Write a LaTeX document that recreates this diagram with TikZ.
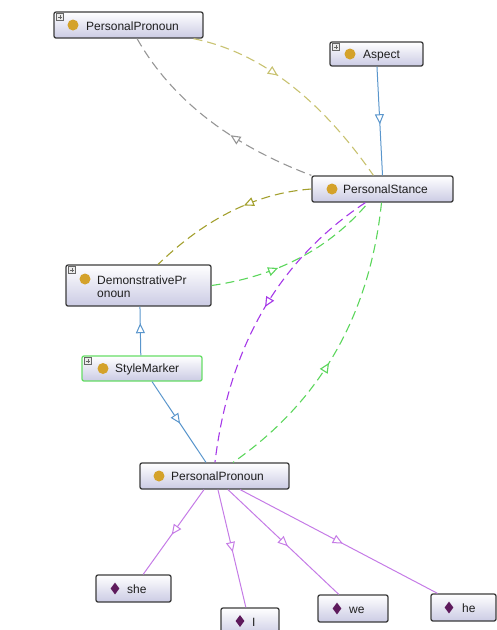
\documentclass[tikz,border=0pt]{standalone}
\usepackage{fontspec}
\setmainfont{Liberation Sans}
\usetikzlibrary{arrows.meta,decorations.markings,calc,shapes.geometric}

\definecolor{boxborder}{HTML}{3C3C3C}
\definecolor{boxbot}{HTML}{CBCBE4}
\definecolor{classdot}{HTML}{D4A22A}
\definecolor{indiv}{HTML}{5E1A5C}
\definecolor{edgeblue}{HTML}{5A96CC}
\definecolor{edgegray}{HTML}{969696}
\definecolor{edgekhaki}{HTML}{C8C270}
\definecolor{edgeolive}{HTML}{A3A02E}
\definecolor{edgegreen}{HTML}{5CD65C}
\definecolor{edgeviolet}{HTML}{A538E8}
\definecolor{edgelilac}{HTML}{C57BE6}
\definecolor{stylegreen}{HTML}{66DD66}

\tikzset{
  box/.style={draw=boxborder, line width=1.3pt, rounded corners=2pt, top color=white, bottom color=boxbot, inner sep=0pt},
  clsdot/.style={circle, fill=classdot, minimum size=11pt, inner sep=0pt},
  inddia/.style={diamond, fill=indiv, minimum width=9pt, minimum height=12pt, inner sep=0pt},
  lbl/.style={anchor=base west, inner sep=0pt, font=\fontsize{12}{14}\selectfont, text=black!88},
  expicon/.style={draw=black!60, fill=black!8, minimum size=7pt, inner sep=0pt, line width=0.5pt, anchor=north west,
    path picture={\draw[line width=0.6pt] ([xshift=-2.2pt]path picture bounding box.center) -- ([xshift=2.2pt]path picture bounding box.center)
      ([yshift=-2.2pt]path picture bounding box.center) -- ([yshift=2.2pt]path picture bounding box.center);}},
  dashedge/.style={line width=1.1pt, dash pattern=on 9pt off 5pt},
  solidedge/.style={line width=1pt},
  midarrow/.style={postaction={decorate}, decoration={markings, mark=at position #1 with {\arrow{Triangle[fill=white,length=10pt,width=9pt]}}}},
  midarrowrev/.style={postaction={decorate}, decoration={markings, mark=at position #1 with {\arrowreversed{Triangle[fill=white,length=10pt,width=9pt]}}}},
}

\begin{document}
\begin{tikzpicture}[x=1pt,y=-1pt]
\useasboundingbox (0,0) rectangle (497,630);

% ---------- nodes ----------
\node[box, minimum width=149pt, minimum height=26pt] (ppTop) at (128.5,25) {};
\node[expicon] (ppTopIcon) at ($(ppTop.north west)+(3,2)$) {};
\node[clsdot] (ppTopDot) at (73,25) {};
\node[lbl] (ppTopTxt) at (86,30) {PersonalPronoun};

\node[box, minimum width=93pt, minimum height=24pt] (aspect) at (376.5,54) {};
\node[expicon] (aspectIcon) at ($(aspect.north west)+(3,2)$) {};
\node[clsdot] (aspectDot) at (350,54) {};
\node[lbl] (aspectTxt) at (363,58.5) {Aspect};

\node[box, minimum width=141pt, minimum height=26pt] (stance) at (382.5,189) {};
\node[clsdot] (stanceDot) at (332,189) {};
\node[lbl] (stanceTxt) at (343,193) {PersonalStance};

\node[box, minimum width=145pt, minimum height=41pt] (demo) at (138.5,285.5) {};
\node[expicon] (demoIcon) at ($(demo.north west)+(3,2)$) {};
\node[clsdot] (demoDot) at (85,279) {};
\node[lbl] (demoTxtA) at (97,284) {DemonstrativePr};
\node[lbl] (demoTxtB) at (97,297) {onoun};

\node[box, draw=stylegreen, minimum width=120pt, minimum height=25pt] (style) at (142,368.5) {};
\node[expicon] (styleIcon) at ($(style.north west)+(3,2)$) {};
\node[clsdot] (styleDot) at (103,368.5) {};
\node[lbl] (styleTxt) at (115,372.5) {StyleMarker};

\node[box, minimum width=149pt, minimum height=26pt] (ppBot) at (214.5,476) {};
\node[clsdot] (ppBotDot) at (159,476) {};
\node[lbl] (ppBotTxt) at (171,480) {PersonalPronoun};

\node[box, minimum width=75pt, minimum height=27pt] (she) at (133.5,588.5) {};
\node[inddia] (sheDia) at (115,588.5) {};
\node[lbl] (sheTxt) at (127,593) {she};

\node[box, minimum width=58pt, minimum height=28pt] (iNode) at (250,622) {};
\node[inddia] (iDia) at (240,621) {};
\node[lbl] (iTxt) at (252,626) {I};

\node[box, minimum width=70pt, minimum height=27pt] (we) at (353,608.5) {};
\node[inddia] (weDia) at (337,608.5) {};
\node[lbl] (weTxt) at (349,613) {we};

\node[box, minimum width=65pt, minimum height=27pt] (he) at (463.5,607.5) {};
\node[inddia] (heDia) at (449,607.5) {};
\node[lbl] (heTxt) at (462,612) {he};

% ---------- connectors ----------
% Aspect -> PersonalStance
\draw[solidedge, edgeblue, midarrow=0.53]
  ($(aspect.south west)!0.505!(aspect.south east)$) -- ($(stance.north west)!0.5!(stance.north east)$);

% PersonalPronoun (top) <-> PersonalStance
\draw[dashedge, edgegray, midarrowrev=0.6]
  ($(ppTop.south west)!0.557!(ppTop.south east)$) .. controls (172,100) and (231,145) .. (stance.north west);
\draw[dashedge, edgekhaki, midarrow=0.4]
  ($(ppTop.south west)!0.933!(ppTop.south east)$) .. controls (259,52) and (319,97) .. ($(stance.north west)!0.436!(stance.north east)$);

% PersonalStance <-> DemonstrativePronoun
\draw[dashedge, edgeolive, midarrow=0.4]
  (stance.west) .. controls (257,193) and (206,218) .. ($(demo.north west)!0.634!(demo.north east)$);
\draw[dashedge, edgegreen, midarrow=0.38]
  (demo.east) .. controls (277,276) and (329,249) .. ($(stance.south west)!0.4!(stance.south east)$);

% PersonalStance <-> PersonalPronoun (bottom)
\draw[dashedge, edgeviolet, midarrow=0.47]
  ($(stance.south west)!0.379!(stance.south east)$) .. controls (279,260) and (229,346) .. ($(ppBot.north west)!0.503!(ppBot.north east)$);
\draw[dashedge, edgegreen, midarrowrev=0.55]
  ($(stance.south west)!0.493!(stance.south east)$) .. controls (370,314) and (321,401) .. ($(ppBot.north west)!0.624!(ppBot.north east)$);

% StyleMarker links
\draw[solidedge, edgeblue, midarrow=0.66]
  ($(style.north west)!0.49!(style.north east)$) -- ($(demo.south west)!0.51!(demo.south east)$);
\draw[solidedge, edgeblue, midarrow=0.52]
  ($(style.south west)!0.583!(style.south east)$) -- ($(ppBot.north west)!0.443!(ppBot.north east)$);

% PersonalPronoun (bottom) -> individuals
\draw[solidedge, edgelilac, midarrow=0.53]
  ($(ppBot.south west)!0.43!(ppBot.south east)$) -- ($(she.north west)!0.627!(she.north east)$);
\draw[solidedge, edgelilac, midarrow=0.53]
  ($(ppBot.south west)!0.523!(ppBot.south east)$) -- ($(iNode.north west)!0.43!(iNode.north east)$);
\draw[solidedge, edgelilac, midarrow=0.54]
  ($(ppBot.south west)!0.59!(ppBot.south east)$) -- ($(we.north west)!0.3!(we.north east)$);
\draw[solidedge, edgelilac, midarrow=0.52]
  ($(ppBot.south west)!0.671!(ppBot.south east)$) -- ($(he.north west)!0.108!(he.north east)$);
\end{tikzpicture}
\end{document}
